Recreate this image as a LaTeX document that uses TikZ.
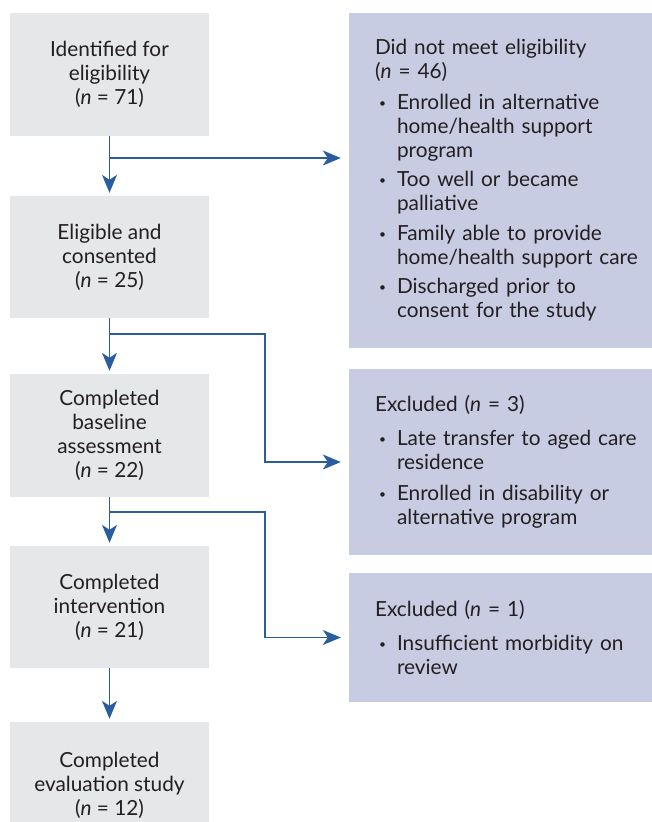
\documentclass[tikz,border=0pt]{standalone}
\usepackage{fontspec}
\setmainfont{Lato}
\usetikzlibrary{arrows.meta,calc}
\definecolor{boxgray}{HTML}{E6E7E8}
\definecolor{boxlav}{HTML}{C8CCE3}
\definecolor{flow}{HTML}{2A5D9F}
\definecolor{ink}{HTML}{231F20}
\newcommand\mainfs{\fontsize{20.8}{24}\selectfont}
\newcommand\smallbul{\raisebox{2.2pt}{\fontsize{12}{12}\selectfont\textbullet}}
\newcommand\bitem[2][5.5pt]{{\par\vspace{#1}\leftskip=22pt\noindent\llap{\makebox[22pt][l]{\hspace{4pt}\smallbul}}#2\par}}
\begin{document}
\begin{tikzpicture}[x=1pt,y=-1pt,
  lbox/.style={fill=boxgray, text=ink, minimum width=199pt, inner sep=0pt, align=center, font=\mainfs},
  rbox/.style={fill=boxlav, text=ink, minimum width=331pt, text width=279pt, inner xsep=26pt, inner ysep=0pt, align=left, font=\mainfs},
  flowarrow/.style={draw=flow, line width=1.3pt, -{Stealth[length=18pt,width=15pt,inset=5pt]}}]
\path[use as bounding box] (0,0) rectangle (652,822);
\clip (0,0) rectangle (652,822);
\node[lbox, minimum height=123pt] (b1) at (109.5,74.5) {Identified for\\eligibility\\(\textit{n} = 71)};
\node[lbox, minimum height=122pt] (b2) at (109.5,257) {Eligible and\\consented\\(\textit{n} = 25)};
\node[lbox, minimum height=123pt] (b3) at (109.5,435.5) {Completed\\baseline\\assessment\\(\textit{n} = 22)};
\node[lbox, minimum height=122pt] (b4) at (109.5,607) {Completed\\intervention\\(\textit{n} = 21)};
\node[lbox, minimum height=126pt] (b5) at (109.5,785) {Completed\\evaluation study\\(\textit{n} = 12)};
\node[rbox, minimum height=335pt] (rA) at (514.5,180.5) {Did not meet eligibility\\(\textit{n} = 46)\bitem[6.5pt]{Enrolled in alternative\\home/health support\\program}\bitem{Too well or became\\palliative}\bitem{Family able to provide\\home/health support care}\bitem{Discharged prior to\\consent for the study}};
\node[rbox, minimum height=186pt] (rB) at (514.5,462) {Excluded (\textit{n} = 3)\bitem[10pt]{Late transfer to aged care\\residence}\bitem[6.5pt]{Enrolled in disability or\\alternative program}};
\node[rbox, minimum height=129pt] (rC) at (514.5,637.5) {Excluded (\textit{n} = 1)\bitem[10pt]{Insufficient morbidity on\\review}};
\draw[flowarrow, shorten >=3pt] (b1) -- (b2);
\draw[flowarrow, shorten >=3pt] (b2) -- (b3);
\draw[flowarrow, shorten >=3pt] (b3) -- (b4);
\draw[flowarrow, shorten >=3pt] (b4) -- (b5);
\coordinate (j1) at (109.5,158);
\coordinate (j2) at (109.5,334);
\coordinate (j3) at (109.5,512);
\draw[flowarrow, shorten >=8pt] (j1) -- (j1 -| rA.west);
\draw[flowarrow, shorten >=8pt] (j2) -- ++(155.5,0) |- (rB.west);
\draw[flowarrow, shorten >=8pt] (j3) -- ++(155.5,0) |- (rC.west);
\end{tikzpicture}
\end{document}
